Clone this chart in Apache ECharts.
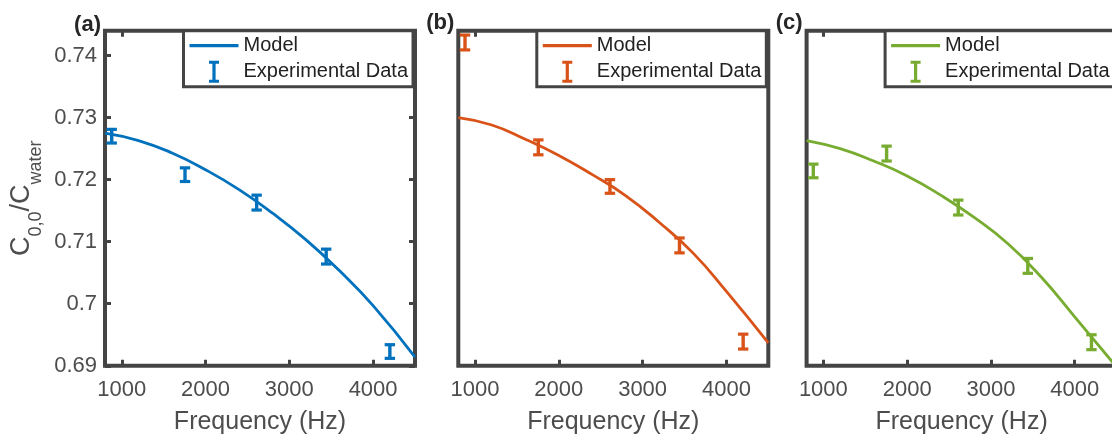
<!DOCTYPE html>
<html><head><meta charset="utf-8">
<script src="https://cdn.jsdelivr.net/npm/echarts@6/dist/echarts.min.js"></script>
<style>html,body{margin:0;padding:0;background:#fff}#c{width:1112px;height:435px}</style>
</head><body><div id="c"></div>
<script>
// ---- data ----
const freq = [880, 1755, 2610, 3440, 4200];
const expA = [0.7270, 0.7208, 0.7163, 0.7076, 0.6923];
const errA = [0.0011, 0.0011, 0.0012, 0.0012, 0.0011];
const expB = [0.7421, 0.7252, 0.7189, 0.7094, 0.6939];
const errB = [0.0012, 0.0012, 0.0011, 0.0012, 0.0012];
const expC = [0.7214, 0.7242, 0.7155, 0.7061, 0.6938];
const errC = [0.0011, 0.0012, 0.0012, 0.0012, 0.0012];
const modelFreq = [800, 1200, 1600, 2000, 2400, 2800, 3200, 3600, 4000, 4500];
const modelA = [0.7275, 0.7263, 0.7243, 0.7216, 0.7184, 0.7146, 0.7103, 0.7053, 0.6997, 0.6914];
const modelB = [0.7300, 0.7288, 0.7265, 0.7239, 0.7208, 0.7174, 0.7131, 0.7082, 0.7020, 0.6937];
const modelC = [0.7263, 0.7250, 0.7230, 0.7206, 0.7175, 0.7139, 0.7097, 0.7043, 0.6979, 0.6898];
const xTicks = [1000, 2000, 3000, 4000];
const yTicks = [0.69, 0.70, 0.71, 0.72, 0.73, 0.74];
const panelLabels = ['(a)', '(b)', '(c)'];
const colors = ['#0072BD', '#D95319', '#77AC30'];

const FONT = '"Liberation Sans", Arial, Helvetica, sans-serif';
const AX = '#444';
const TXT = '#4d4d4d';
const lefts = [105, 458.3, 806.6];
const TOP = 30.7, W = 310, H = 335.1;
const XMIN = 800, XMAX = 4500, YMIN = 0.69, YMAX = 0.744;

const exps = [expA, expB, expC];
const errs = [errA, errB, errC];
const models = [modelA, modelB, modelC];
const keys = ['a', 'b', 'c'];

function renderErr(params, api) {
  const x = api.value(0), y = api.value(1), e = api.value(2);
  const hi = api.coord([x, y + e]);
  const lo = api.coord([x, y - e]);
  const hw = 5.2;
  const col = api.visual('color');
  return {
    type: 'group',
    children: [
      { type: 'line', shape: { x1: hi[0], y1: hi[1], x2: lo[0], y2: lo[1] }, style: { stroke: col, lineWidth: 3.4 } },
      { type: 'line', shape: { x1: hi[0] - hw, y1: hi[1], x2: hi[0] + hw, y2: hi[1] }, style: { stroke: col, lineWidth: 3.2 } },
      { type: 'line', shape: { x1: lo[0] - hw, y1: lo[1], x2: lo[0] + hw, y2: lo[1] }, style: { stroke: col, lineWidth: 3.2 } }
    ]
  };
}

const grid = lefts.map(l => ({
  left: l, top: TOP, width: W, height: H,
  show: true, borderColor: AX, borderWidth: 4, backgroundColor: 'transparent',
  containLabel: false, outerBoundsMode: 'none'
}));

const xAxis = [];
lefts.forEach((l, i) => {
  xAxis.push({
    gridIndex: i, type: 'value', min: XMIN, max: XMAX, position: 'bottom',
    axisLine: { show: false }, splitLine: { show: false },
    axisTick: { show: true, inside: true, length: 6, customValues: xTicks, lineStyle: { color: AX, width: 3 } },
    axisLabel: { show: true, customValues: xTicks, fontSize: 22, color: TXT, margin: 13, fontFamily: FONT,
      formatter: v => String(Math.round(v)) },
    name: 'Frequency (Hz)', nameLocation: 'middle', nameGap: 44,
    nameTextStyle: { fontSize: 25, color: TXT, fontFamily: FONT }
  });
  xAxis.push({
    gridIndex: i, type: 'value', min: XMIN, max: XMAX, position: 'top',
    axisLine: { show: false }, splitLine: { show: false },
    axisTick: { show: true, inside: true, length: 6, customValues: xTicks, lineStyle: { color: AX, width: 3 } },
    axisLabel: { show: false }
  });
});

const yAxis = [];
lefts.forEach((l, i) => {
  const ax = {
    gridIndex: i, type: 'value', min: YMIN, max: YMAX, position: 'left',
    axisLine: { show: false }, splitLine: { show: false },
    axisTick: { show: i === 0, inside: true, length: 6, customValues: yTicks, lineStyle: { color: AX, width: 3 } },
    axisLabel: { show: i === 0, customValues: yTicks, fontSize: 22, color: TXT, margin: 8, fontFamily: FONT,
      formatter: v => String(+(+v).toFixed(3)) }
  };
  if (i === 0) {
    ax.name = '{c|C}{s|0,0}{c|/C}{s|water}';
    ax.nameLocation = 'middle';
    ax.nameRotate = 90;
    ax.nameGap = 60;
    ax.nameTextStyle = {
      color: TXT, fontFamily: FONT,
      rich: {
        c: { fontSize: 27, lineHeight: 29, verticalAlign: 'top', color: TXT, fontFamily: FONT },
        s: { fontSize: 18, lineHeight: 37, verticalAlign: 'bottom', color: TXT, fontFamily: FONT }
      }
    };
  }
  yAxis.push(ax);
});
yAxis.push({
  gridIndex: 0, type: 'value', min: YMIN, max: YMAX, position: 'right',
  axisLine: { show: false }, splitLine: { show: false },
  axisTick: { show: true, inside: true, length: 6, customValues: yTicks, lineStyle: { color: AX, width: 3 } },
  axisLabel: { show: false }
});

const series = [];
const legend = [];
const IBEAM = 'path://M0,0H10V3H6.6V19H10V22H0V19H3.4V3H0Z';
const LINEICON = 'path://M0,0H49V3.2H0Z';
lefts.forEach((l, i) => {
  const k = keys[i];
  series.push({
    type: 'line', name: 'Model|' + k, xAxisIndex: 2 * i, yAxisIndex: i,
    data: modelFreq.map((f, j) => [f, models[i][j]]),
    smooth: true, symbol: 'none', showSymbol: false,
    lineStyle: { width: 2.8, color: colors[i] }, itemStyle: { color: colors[i] },
    z: 3, animation: false
  });
  series.push({
    type: 'custom', name: 'Experimental Data|' + k, xAxisIndex: 2 * i, yAxisIndex: i,
    data: freq.map((f, j) => [f, exps[i][j], errs[i][j]]),
    encode: { x: 0, y: 1 },
    renderItem: renderErr,
    itemStyle: { color: colors[i] },
    z: 4, animation: false
  });
  legend.push({
    left: l + W - 231.5, top: TOP, orient: 'vertical',
    data: [
      { name: 'Model|' + k, icon: LINEICON, itemStyle: { color: colors[i], borderWidth: 0 }, lineStyle: { width: 0 } },
      { name: 'Experimental Data|' + k, icon: IBEAM, itemStyle: { color: colors[i], borderWidth: 0 } }
    ],
    formatter: n => n.split('|')[0],
    itemWidth: 49, itemHeight: 22, itemGap: 5,
    padding: [5, 5, 4, 6],
    borderColor: AX, borderWidth: 3, backgroundColor: '#fff',
    textStyle: { fontSize: 20, color: '#222', fontFamily: FONT },
    selectedMode: false, z: 10
  });
});

const graphic = panelLabels.map((t, i) => ({
  type: 'text', x: lefts[i] - 4, y: i === 0 ? 25 : 23,
  style: { text: t, font: 'bold 22px ' + FONT, fill: '#262626',
    align: 'right', verticalAlign: 'middle', textAlign: 'right', textVerticalAlign: 'middle' },
  z: 20
}));

const chart = echarts.init(document.getElementById('c'), null, { renderer: 'canvas', devicePixelRatio: 1 });
chart.setOption({
  animation: false,
  backgroundColor: '#fff',
  textStyle: { fontFamily: FONT },
  grid, xAxis, yAxis, series, legend, graphic
});
</script>
</body></html>
